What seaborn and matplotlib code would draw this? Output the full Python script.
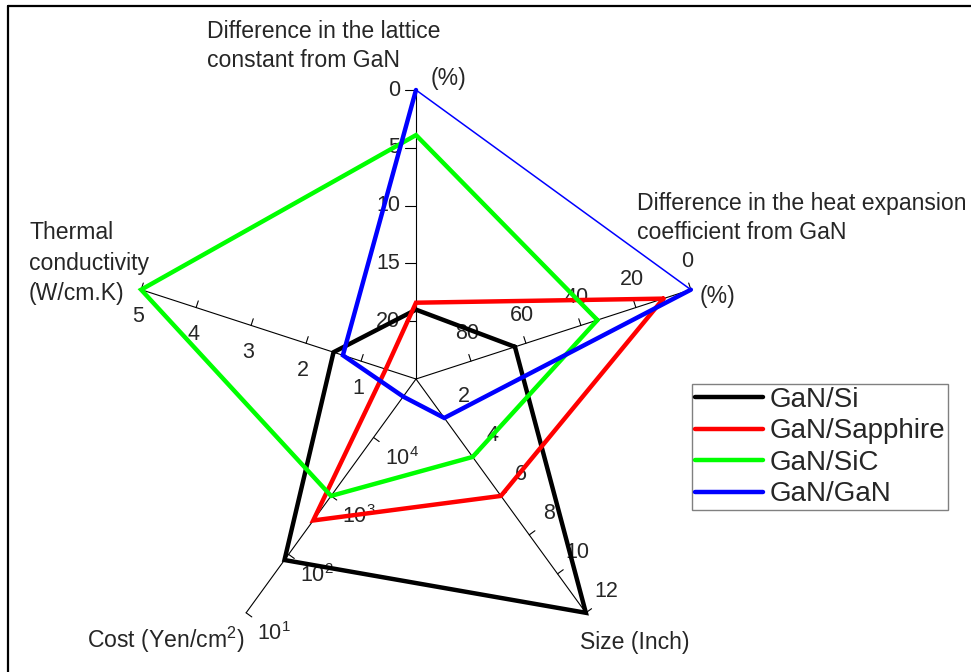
import numpy as np
import pandas as pd
import matplotlib
matplotlib.use("Agg")
import matplotlib.pyplot as plt
from matplotlib.lines import Line2D
import seaborn as sns

# ---------------- data ----------------
substrates = ["GaN/Si", "GaN/Sapphire", "GaN/SiC", "GaN/GaN"]
colors = ["#000000", "#ff0000", "#00ff00", "#0000ff"]
lattice_mismatch = [19.0, 18.4, 3.9, 0.0]      # %
heat_mismatch = [64.0, 10.0, 34.0, 0.0]        # %
wafer_size = [12.0, 6.0, 4.0, 2.0]             # inch
cost = [80.0, 380.0, 1000.0, 5.0e4]            # Yen/cm2
thermal_cond = [1.5, 0.55, 5.0, 1.33]          # W/cm.K

lattice_ticks = [0, 5, 10, 15, 20]
heat_ticks = [0, 20, 40, 60, 80]
size_ticks = [2, 4, 6, 8, 10, 12]
cost_ticks = [1e4, 1e3, 1e2, 1e1]
thermal_ticks = [1, 2, 3, 4, 5]

# ---------------- scales (normalised radius) ----------------
ANG = {"lattice": 90, "heat": 18, "size": -54, "cost": -126, "thermal": 162}
SCALE = {
    "lattice": lambda v: (25.0 - np.asarray(v, float)) / 25.0,
    "heat": lambda v: (100.0 - np.asarray(v, float)) / 100.0,
    "size": lambda v: np.asarray(v, float) / 12.0,
    "cost": lambda v: (5.0 - np.log10(np.asarray(v, float))) / 4.0,
    "thermal": lambda v: np.asarray(v, float) / 5.0,
}
values = {"lattice": lattice_mismatch, "heat": heat_mismatch, "size": wafer_size,
          "cost": cost, "thermal": thermal_cond}

sns.set_theme(style="white")
plt.rcParams["font.family"] = ["Liberation Sans", "DejaVu Sans"]
plt.rcParams["mathtext.fontset"] = "custom"
plt.rcParams["mathtext.rm"] = "Liberation Sans"
plt.rcParams["mathtext.it"] = "Liberation Sans:italic"
plt.rcParams["mathtext.bf"] = "Liberation Sans:bold"

W, H = 971, 672
TFS = 16.6   # axis title font size
KFS = 15.5   # tick label font size
fig = plt.figure(figsize=(W / 100, H / 100), dpi=100)
fig.patch.set_facecolor("white")
CX, CY, R = 416, 379, 289
ax = fig.add_axes([(CX - R) / W, (H - CY - R) / H, 2 * R / W, 2 * R / H], projection="polar")
ax.set_ylim(0, 1)
ax.set_axis_off()

def th(name):
    return np.deg2rad(ANG[name])

# axis lines
for name in ANG:
    ax.plot([th(name), th(name)], [0, 1], color="black", lw=0.8, clip_on=False, zorder=2)

def tick(name, r, side, length):
    t = th(name)
    u = np.array([np.cos(t), np.sin(t)])
    n = np.array([-np.sin(t), np.cos(t)])
    p0 = r * u
    p1 = p0 + side * (length / R) * n
    ts = [np.arctan2(p[1], p[0]) for p in (p0, p1)]
    rs = [np.hypot(p[0], p[1]) for p in (p0, p1)]
    ax.plot(ts, rs, color="black", lw=0.8, clip_on=False, zorder=2)

def ticklabels(name, ticks, labels, side, length, offset, ha="center", fs=KFS):
    rr = SCALE[name](ticks)
    for r, lab in zip(rr, labels):
        tick(name, r, side, length)
        ax.annotate(lab, xy=(th(name), r), xytext=offset, textcoords="offset pixels",
                    ha=ha, va="center", fontsize=fs, annotation_clip=False, zorder=3)

ticklabels("lattice", lattice_ticks, [str(v) for v in lattice_ticks], +1, 11, (-16, 0), ha="right")
ticklabels("heat", heat_ticks, [str(v) for v in heat_ticks], +1, 7, (-4, 28))
ticklabels("size", size_ticks, [str(v) for v in size_ticks], +1, 7, (20, 21))
ticklabels("cost", cost_ticks,
           [r"$\mathregular{10^{%d}}$" % int(round(np.log10(v))) for v in cost_ticks],
           +1, 7, (28, -21))
ticklabels("thermal", thermal_ticks, [str(v) for v in thermal_ticks], -1, 7, (-3, -27))

# ---------------- data polygons via seaborn ----------------
order = ["heat", "size", "cost", "thermal", "lattice"]
rows = []
for i, s in enumerate(substrates):
    seq = order if s == "GaN/GaN" else order + ["heat"]
    for k, name in enumerate(seq):
        rows.append({"substrate": s, "step": k, "theta": th(name),
                     "r": float(SCALE[name](values[name][i]))})
df = pd.DataFrame(rows)

for s, c in zip(substrates, colors):
    sub = df[df["substrate"] == s].sort_values("step")
    sns.lineplot(data=sub, x="theta", y="r", sort=False, estimator=None,
                 color=c, lw=3.2, ax=ax, legend=False, zorder=5)

# thin closing edge of the GaN/GaN polygon
gi = substrates.index("GaN/GaN")
ax.plot([th("lattice"), th("heat")],
        [float(SCALE["lattice"](lattice_mismatch[gi])), float(SCALE["heat"](heat_mismatch[gi]))],
        color=colors[gi], lw=1.1, clip_on=False, zorder=5)

for ln in ax.lines:
    ln.set_clip_on(False)
    ln.set_solid_joinstyle("miter")
ax.set_xlabel("")
ax.set_ylabel("")

# ---------------- axis titles ----------------
def ftext(x, y, s, **kw):
    fig.text(x / W, 1 - y / H, s, **kw)

ftext(207, 46, "Difference in the lattice\nconstant from GaN", ha="left", va="center",
      fontsize=TFS, linespacing=1.38)
ftext(448, 78, "(%)", ha="center", va="center", fontsize=TFS)
ftext(637, 218, "Difference in the heat expansion\ncoefficient from GaN", ha="left",
      va="center", fontsize=TFS, linespacing=1.38)
ftext(717, 297, "(%)", ha="center", va="center", fontsize=TFS)
ftext(29, 263, "Thermal\nconductivity\n(W/cm.K)", ha="left", va="center", fontsize=TFS,
      linespacing=1.42)
ftext(87, 640, r"Cost (Yen/cm$^{\mathregular{2}}$)", ha="left", va="center", fontsize=TFS)
ftext(580, 642, "Size (Inch)", ha="left", va="center", fontsize=TFS)

# ---------------- legend ----------------
handles = [Line2D([0], [0], color=c, lw=3.2) for c in colors]
leg = fig.legend(handles, substrates, loc="upper left",
                 bbox_to_anchor=(692 / W, 1 - 384 / H), bbox_transform=fig.transFigure,
                 fontsize=20, frameon=True, fancybox=False, framealpha=1,
                 edgecolor="#808080", handlelength=2.45, handletextpad=0.25,
                 borderpad=0.1, labelspacing=0.2, borderaxespad=0)
leg.get_frame().set_linewidth(1.0)

# ---------------- figure border (top and left) ----------------
fig.add_artist(Line2D([8 / W, 1], [1 - 6 / H, 1 - 6 / H], transform=fig.transFigure,
                      color="black", lw=1.6))
fig.add_artist(Line2D([8 / W, 8 / W], [0, 1 - 6 / H], transform=fig.transFigure,
                      color="black", lw=1.6))

fig.savefig("out.png", dpi=100, facecolor="white")
